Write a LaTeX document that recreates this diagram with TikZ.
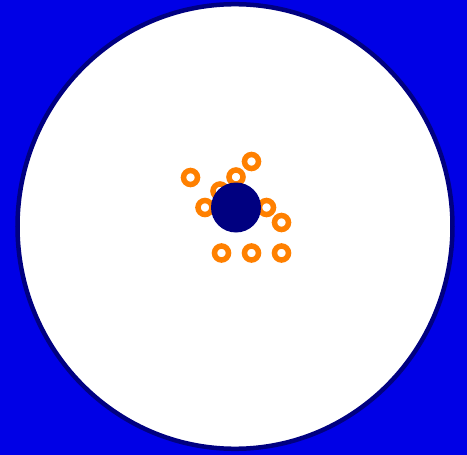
\documentclass[tikz,border=0pt]{standalone}
\begin{document}
\begin{tikzpicture}[x=1pt,y=-1pt,
  ringnode/.style={circle,draw=ringorange,line width=5.5pt,minimum size=14pt,inner sep=0pt,fill=white},
  hubnode/.style={circle,fill=hubnavy,minimum size=50pt,inner sep=0pt}]
\definecolor{bgblue}{RGB}{0,0,230}
\definecolor{hubnavy}{RGB}{0,0,128}
\definecolor{ringorange}{RGB}{255,128,0}
\fill[bgblue] (0,0) rectangle (467,455);
\useasboundingbox (0,0) rectangle (467,455);
\draw[hubnavy,line width=4.5pt,fill=white] (235,226.5) ellipse [x radius=217.5,y radius=222.3];
\node[ringnode] (r1) at (190.5,177.5) {};
\node[ringnode] (r2) at (251.5,161.5) {};
\node[ringnode] (r3) at (236,177) {};
\node[ringnode] (r4) at (220,191) {};
\node[ringnode] (r5) at (205,207.5) {};
\node[ringnode] (r6) at (266.5,207.5) {};
\node[ringnode] (r7) at (281.5,222.5) {};
\node[ringnode] (r8) at (221.5,253) {};
\node[ringnode] (r9) at (251.5,253) {};
\node[ringnode] (r10) at (281.5,253) {};
\node[hubnode] (hub) at (236,207.5) {};
\end{tikzpicture}
\end{document}
